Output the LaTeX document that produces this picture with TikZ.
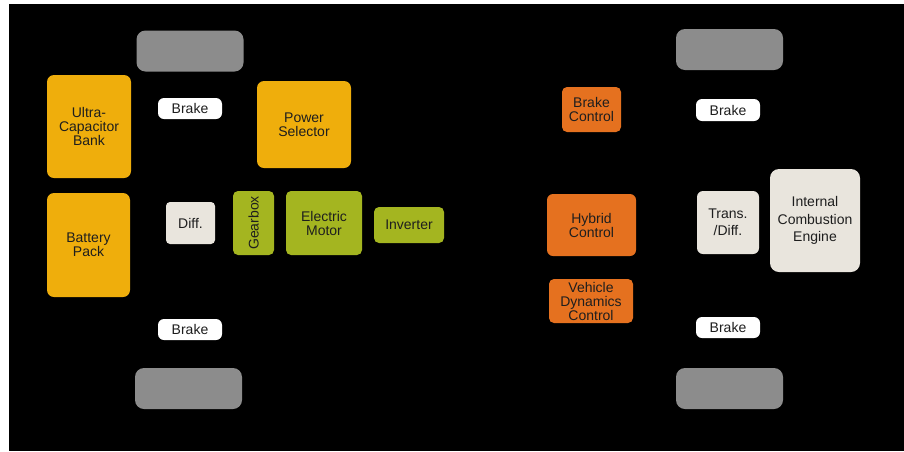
\documentclass[tikz,border=0pt]{standalone}
\usepackage{fontspec}
\setmainfont{Liberation Sans}
\definecolor{amber}{HTML}{EFAE0C}
\definecolor{olive}{HTML}{A4B520}
\definecolor{orng}{HTML}{E5711F}
\definecolor{beige}{HTML}{E9E5DD}
\definecolor{wheelgray}{HTML}{8C8C8C}
\definecolor{txt}{HTML}{1E1E1E}
\tikzset{
  blk/.style={rounded corners=7pt, inner sep=0pt, align=center, text=txt,
    font=\fontsize{14}{14}\selectfont},
  wheel/.style={blk, fill=wheelgray, rounded corners=9pt, minimum width=107pt, minimum height=41pt},
  brakebox/.style={blk, fill=white, rounded corners=6pt, minimum width=64pt, minimum height=21pt},
  ambox/.style={blk, fill=amber},
  grbox/.style={blk, fill=olive, rounded corners=5pt},
  orbox/.style={blk, fill=orng, rounded corners=5pt},
  bgbox/.style={blk, fill=beige},
}
\begin{document}
\begin{tikzpicture}[x=1pt,y=-1pt]
\useasboundingbox (0,0) rectangle (904,451);
\fill[white] (0,0) rectangle (904,451);
\fill[black] (9,4) rectangle (904,451);
% wheels
\node[wheel] (wheelTL) at (190,51) {};
\node[wheel] (wheelBL) at (188.5,388.5) {};
\node[wheel] (wheelTR) at (729.5,49.5) {};
\node[wheel] (wheelBR) at (729.5,388.5) {};
% brakes
\node[brakebox] (brakeTL) at (190,108.5) {Brake};
\node[brakebox] (brakeBL) at (190,329.5) {Brake};
\node[brakebox, minimum height=22pt] (brakeTR) at (728,110) {Brake};
\node[brakebox] (brakeBR) at (728,327.5) {Brake};
% storage
\node[ambox, minimum width=84pt, minimum height=103pt] (ucap) at (89,126.5) {Ultra-\\Capacitor\\Bank};
\node[ambox, minimum width=83pt, minimum height=104pt] (batt) at (88.5,245) {Battery\\Pack};
\node[ambox, minimum width=94pt, minimum height=87pt] (power) at (304,124.5) {Power\\Selector};
% drivetrain
\node[bgbox, rounded corners=4pt, minimum width=49pt, minimum height=42pt] (diff) at (190.5,223) {Diff.};
\node[grbox, rotate=90, minimum width=64pt, minimum height=41pt] (gearbox) at (253.5,223) {Gearbox};
\node[grbox, minimum width=76pt, minimum height=64pt] (emotor) at (324,223) {Electric\\Motor};
\node[grbox, minimum width=70pt, minimum height=36pt] (inverter) at (409,225) {Inverter};
% controls
\node[orbox, minimum width=59pt, minimum height=45pt] (brakectl) at (591.5,109.5) {Brake\\Control};
\node[orbox, rounded corners=6pt, minimum width=89pt, minimum height=62pt] (hybrid) at (591.5,225) {Hybrid\\Control};
\node[orbox, minimum width=84pt, minimum height=44pt] (vdc) at (591,301) {Vehicle\\Dynamics\\Control};
% engine side
\node[bgbox, rounded corners=6pt, font=\fontsize{14}{17}\selectfont, minimum width=62pt, minimum height=63pt] (trans) at (728,222.5) {Trans.\\/Diff.};
\node[bgbox, rounded corners=9pt, font=\fontsize{14}{17.5}\selectfont, minimum width=90pt, minimum height=103pt] (ice) at (815,220.5) {Internal\\Combustion\\Engine};
\end{tikzpicture}
\end{document}
